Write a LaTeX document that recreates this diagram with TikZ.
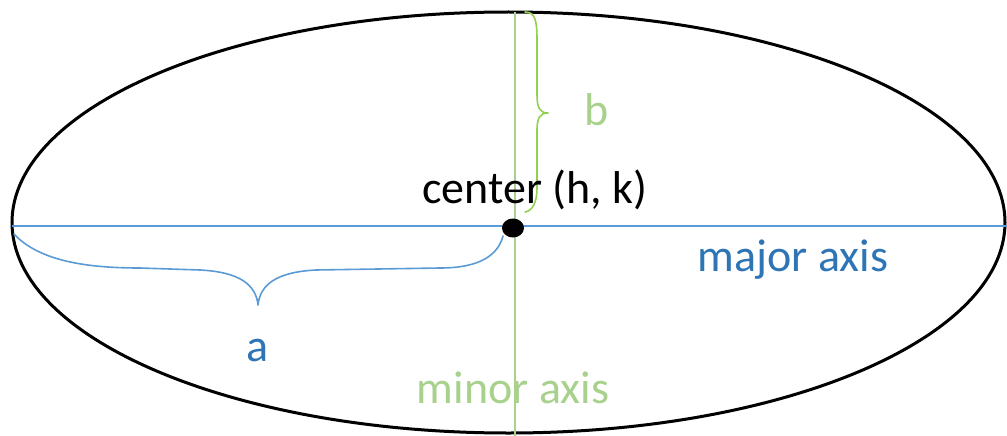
\documentclass[tikz,border=0pt]{standalone}
\usepackage{fontspec}
\setmainfont{Carlito}
\usetikzlibrary{shapes.geometric}
\definecolor{axblue}{RGB}{91,155,213}
\definecolor{txblue}{RGB}{46,117,182}
\definecolor{lgreen}{RGB}{169,209,142}
\definecolor{bgreen}{RGB}{146,208,80}
\begin{document}
\begin{tikzpicture}[x=1pt,y=-1pt,
  lbl/.style={font=\fontsize{46}{50}\selectfont, inner sep=0pt},
  bracestyle/.style={line width=1.6pt, line cap=round, line join=round}]
\useasboundingbox (0,0) rectangle (1007,436);
% ellipse
\draw[line width=3pt] (508.5,222.5) ellipse [x radius=496.5, y radius=210.5];
% axis end points
\coordinate (L) at (12,226);
\coordinate (R) at (1007,226);
\coordinate (T) at (515,12);
\coordinate (B) at (515,436);
\draw[axblue, line width=1.6pt] (L) -- (R);
\draw[lgreen, line width=1.6pt] (T) -- (B);
\node[ellipse, fill=black, inner sep=0pt, minimum width=22pt, minimum height=19pt] (C) at (513,228) {};
% brace b
\coordinate (bt) at (525,12);
\coordinate (bb) at (525,212);
\draw[bgreen, bracestyle] (bt) .. controls (535,12) and (537,20) .. (537,40) -- (537,95)
  .. controls (537,108) and (540,113) .. (548,113)
  .. controls (540,113) and (537,118) .. (537,130) -- (537,188)
  .. controls (537,203) and (532,211) .. (bb);
% brace a
\coordinate (al) at (14,234);
\coordinate (ar) at (503,236);
\draw[axblue, bracestyle] (al) .. controls (40,262) and (90,268) .. (140,268) -- (200,270)
  .. controls (240,272) and (256,285) .. (258,305)
  .. controls (260,285) and (276,272) .. (316,270) -- (440,268)
  .. controls (480,268) and (498,255) .. (ar);
% labels
\node[lbl, text=lgreen] (lb) at (597,110) {b};
\node[lbl, text=black] (lc) at (535,190) {center (h, k)};
\node[lbl, text=txblue] (lma) at (793,260) {major axis};
\node[lbl, text=txblue] (la) at (258,350) {a};
\node[lbl, text=lgreen] (lmi) at (513,388) {minor axis};
\end{tikzpicture}
\end{document}
